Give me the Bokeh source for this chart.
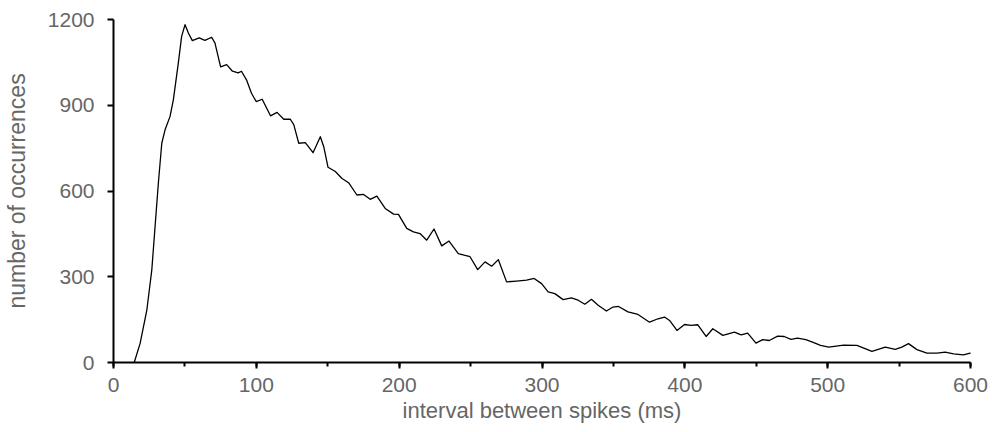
from bokeh.plotting import figure
from bokeh.models import Range1d, SingleIntervalTicker, ColumnDataSource
from bokeh.embed import file_html
from bokeh.resources import INLINE

# interval between spikes (ms)
interval_ms = [14.5, 18.6, 23.3, 26.8, 29.1, 31.4, 33.8, 36.1, 39.6, 41.9, 45.4, 47.7, 50.1, 52.4, 55.2,
               60, 64, 68.7, 71, 75, 79.2, 83.3, 87.3, 89.6, 93.1, 96.6, 99.9, 104.1, 109.9, 114.5,
               119.2, 123.8, 126.2, 129.7, 134.3, 139.7, 144.8, 147.2, 150.2, 155.3, 160, 164.6,
               170.4, 175.1, 179.7, 184.4, 190.2, 196.1, 199.5, 205.3, 210, 214.6, 219.3, 224.4,
               229.8, 234.9, 241.4, 249.6, 255, 260.1, 264.8, 269.4, 275.2, 282.2, 289.2, 294.5,
               299.7, 304.3, 309, 314.8, 320.6, 325.3, 330, 334.6, 339.3, 345.1, 349.7, 353.6,
               360.2, 367.2, 375.3, 381.2, 385.8, 389.3, 394.5, 399.8, 404.4, 409.1, 414.9, 419.6,
               426.6, 434.7, 439.4, 444, 449.8, 454.5, 459.1, 465, 469.6, 474.3, 478.9, 484.7,
               489.4, 495, 500.7, 511.2, 520.5, 531, 540.3, 547.3, 551.9, 556.6, 562.5, 569.5,
               576.5, 582.3, 588.1, 595.1, 599.7, 601]
# number of occurrences
occurrences = [0, 66, 182, 323, 475, 627, 767, 814, 861, 919, 1048, 1141, 1182, 1153, 1126,
               1136, 1127, 1138, 1118, 1034, 1042, 1019, 1013, 1019, 989, 942, 913, 921, 863, 875,
               851, 851, 832, 767, 769, 734, 790, 755, 683, 668, 644, 629,
               586, 588, 571, 582, 539, 519, 518, 469, 457, 451, 428, 467,
               408, 425, 381, 370, 325, 352, 337, 360, 282, 285, 288, 294,
               276, 247, 241, 220, 226, 218, 204, 221, 200, 180, 194, 196,
               177, 168, 141, 153, 159, 147, 112, 133, 130, 132, 91, 118,
               95, 106, 97, 103, 68, 80, 77, 92, 91, 81, 85, 80,
               71, 60, 54, 61, 60, 39, 54, 46, 54, 66, 45, 33,
               33, 36, 30, 27, 33, 30]

x_label = "interval between spikes (ms)"
y_label = "number of occurrences"

p = figure(width=992, height=432, output_backend="svg", toolbar_location=None,
           x_range=Range1d(0, 600), y_range=Range1d(0, 1200),
           min_border_left=111, min_border_right=22, min_border_top=19, min_border_bottom=70)
p.outline_line_color = None
p.xgrid.grid_line_color = None
p.ygrid.grid_line_color = None
p.background_fill_color = "white"

src = ColumnDataSource(dict(x=interval_ms, y=occurrences))
p.line("x", "y", source=src, line_color="black", line_width=1.3, line_join="round")

p.xaxis.ticker = SingleIntervalTicker(interval=100, num_minor_ticks=2)
p.yaxis.ticker = SingleIntervalTicker(interval=300, num_minor_ticks=0)

for ax in (p.xaxis, p.yaxis):
    ax.axis_line_color = "black"
    ax.axis_line_width = 2
    ax.major_tick_line_color = "black"
    ax.major_tick_line_width = 2
    ax.minor_tick_line_color = "black"
    ax.minor_tick_line_width = 2
    ax.major_tick_in = 0
    ax.major_tick_out = 6
    ax.minor_tick_in = 0
    ax.minor_tick_out = 4
    ax.major_label_text_font = "Liberation Sans"
    ax.major_label_text_font_size = "21px"
    ax.major_label_text_color = "#666666"
    ax.axis_label_text_font = "Liberation Sans"
    ax.axis_label_text_font_style = "normal"
    ax.axis_label_text_color = "#666666"

p.xaxis.axis_label_text_font_size = "22px"
p.yaxis.axis_label_text_font_size = "23px"
p.xaxis.axis_label = x_label
p.yaxis.axis_label = y_label
p.xaxis.major_label_standoff = 9
p.yaxis.major_label_standoff = 13
p.xaxis.axis_label_standoff = 3
p.yaxis.axis_label_standoff = 15

open("out.html", "w").write(file_html(p, INLINE))
